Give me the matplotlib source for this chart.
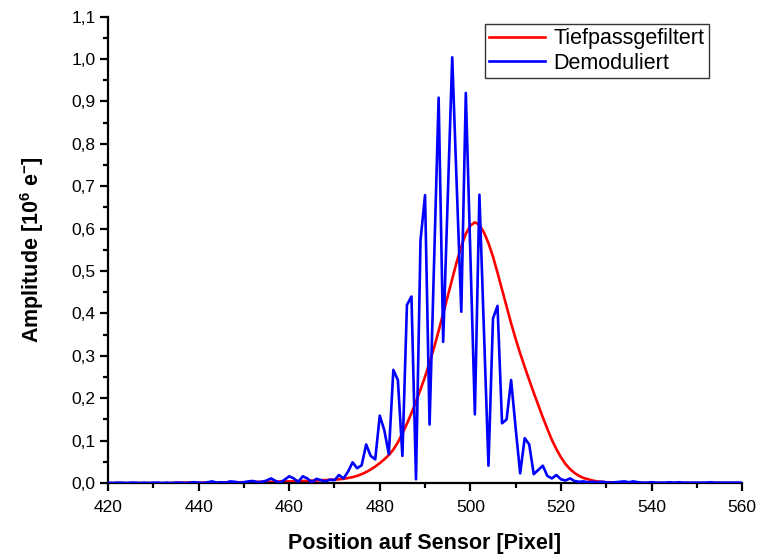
import numpy as np
import matplotlib
matplotlib.use('Agg')
import matplotlib.pyplot as plt
from matplotlib.ticker import MultipleLocator, FuncFormatter

plt.rcParams['font.family'] = ['Liberation Sans', 'DejaVu Sans']
plt.rcParams['mathtext.fontset'] = 'custom'
plt.rcParams['mathtext.rm'] = 'Liberation Sans'
plt.rcParams['mathtext.bf'] = 'Liberation Sans:bold'
plt.rcParams['mathtext.default'] = 'bf'

# Demodulated signal, one value per pixel (420..560)
pixel = np.arange(420, 561)
demoduliert = [
    0.001, 0.000, 0.001, 0.001, 0.000, 0.001, 0.001, 0.000, 0.001, 0.000,   # 420-429
    0.001, 0.001, 0.000, 0.001, 0.000, 0.001, 0.001, 0.000, 0.001, 0.002,   # 430-439
    0.001, 0.000, 0.002, 0.004, 0.001, 0.002, 0.001, 0.004, 0.003, 0.001,   # 440-449
    0.002, 0.004, 0.005, 0.002, 0.003, 0.006, 0.011, 0.005, 0.001, 0.008,   # 450-459
    0.016, 0.011, 0.003, 0.016, 0.011, 0.002, 0.010, 0.007, 0.004, 0.008,   # 460-469
    0.007, 0.019, 0.011, 0.027, 0.049, 0.035, 0.042, 0.091, 0.064, 0.056,   # 470-479
    0.159, 0.125, 0.068, 0.267, 0.243, 0.064, 0.420, 0.440, 0.009, 0.573,   # 480-489
    0.679, 0.138, 0.520, 0.909, 0.333, 0.670, 1.004, 0.700, 0.404, 0.920,   # 490-499
    0.540, 0.162, 0.680, 0.360, 0.041, 0.388, 0.418, 0.141, 0.150, 0.243,   # 500-509
    0.130, 0.023, 0.106, 0.091, 0.021, 0.031, 0.041, 0.017, 0.011, 0.019,   # 510-519
    0.009, 0.006, 0.011, 0.005, 0.003, 0.004, 0.002, 0.003, 0.002, 0.003,   # 520-529
    0.002, 0.001, 0.002, 0.003, 0.004, 0.002, 0.004, 0.002, 0.001, 0.001,   # 530-539
    0.002, 0.001, 0.001, 0.001, 0.002, 0.001, 0.002, 0.001, 0.001, 0.001,   # 540-549
    0.001, 0.001, 0.001, 0.002, 0.001, 0.001, 0.001, 0.001, 0.001, 0.001,   # 550-559
    0.001,                                                                  # 560
]

# Low-pass filtered signal, same pixel grid
tiefpass = [
    0.000, 0.000, 0.000, 0.000, 0.000, 0.000, 0.000, 0.000, 0.000, 0.000,   # 420-429
    0.000, 0.000, 0.000, 0.000, 0.000, 0.001, 0.001, 0.001, 0.001, 0.001,   # 430-439
    0.001, 0.001, 0.001, 0.001, 0.001, 0.001, 0.002, 0.002, 0.002, 0.002,   # 440-449
    0.002, 0.002, 0.003, 0.003, 0.003, 0.003, 0.003, 0.003, 0.004, 0.004,   # 450-459
    0.004, 0.004, 0.005, 0.005, 0.005, 0.006, 0.006, 0.007, 0.007, 0.008,   # 460-469
    0.008, 0.009, 0.010, 0.012, 0.014, 0.017, 0.021, 0.026, 0.032, 0.039,   # 470-479
    0.047, 0.056, 0.066, 0.079, 0.096, 0.117, 0.140, 0.165, 0.192, 0.221,   # 480-489
    0.251, 0.284, 0.320, 0.359, 0.400, 0.442, 0.483, 0.522, 0.558, 0.588,   # 490-499
    0.607, 0.615, 0.609, 0.591, 0.566, 0.534, 0.496, 0.456, 0.416, 0.377,   # 500-509
    0.340, 0.306, 0.274, 0.243, 0.213, 0.184, 0.155, 0.128, 0.102, 0.080,   # 510-519
    0.061, 0.045, 0.033, 0.024, 0.017, 0.012, 0.009, 0.006, 0.004, 0.003,   # 520-529
    0.002, 0.002, 0.001, 0.001, 0.001, 0.001, 0.000, 0.000, 0.000, 0.000,   # 530-539
    0.000, 0.000, 0.000, 0.000, 0.000, 0.000, 0.000, 0.000, 0.000, 0.000,   # 540-549
    0.000, 0.000, 0.000, 0.000, 0.000, 0.000, 0.000, 0.000, 0.000, 0.000,   # 550-559
    0.000,                                                                  # 560
]

fig = plt.figure(figsize=(7.58, 5.54), dpi=100)
ax = fig.add_axes([0.1425, 0.128, 0.8365, 0.842])

ax.plot(pixel, tiefpass, color='#ff0000', lw=1.9, label='Tiefpassgefiltert', zorder=2)
ax.plot(pixel, demoduliert, color='#0000ff', lw=1.9, label='Demoduliert', zorder=3)

ax.set_xlim(420, 560)
ax.set_ylim(0, 1.1)

ax.xaxis.set_major_locator(MultipleLocator(20))
ax.xaxis.set_minor_locator(MultipleLocator(10))
ax.yaxis.set_major_locator(MultipleLocator(0.1))
ax.yaxis.set_minor_locator(MultipleLocator(0.05))
ax.yaxis.set_major_formatter(FuncFormatter(lambda v, p: f'{v:.1f}'.replace('.', ',')))

for side in ('top', 'right'):
    ax.spines[side].set_visible(False)
for side in ('left', 'bottom'):
    ax.spines[side].set_linewidth(1.6)

ax.tick_params(which='major', direction='out', length=6, width=1.6, labelsize=12.5, pad=3)
ax.tick_params(axis='x', which='major', pad=6)
ax.tick_params(which='minor', direction='out', length=3.5, width=1.6)

ax.set_xlabel('Position auf Sensor [Pixel]', fontsize=15.5, fontweight='bold', labelpad=13)
ax.set_ylabel(r'Amplitude [10$^{6}$ e$^{-}$]', fontsize=15.5, fontweight='bold', labelpad=18)

leg = ax.legend(loc='upper right', bbox_to_anchor=(0.958, 0.998), fontsize=15.5,
                frameon=True, fancybox=False, handlelength=2.6, borderpad=0.2,
                labelspacing=0.15, handletextpad=0.4, borderaxespad=0.3)
leg.get_frame().set_edgecolor('black')
leg.get_frame().set_linewidth(1.0)

fig.savefig('out.png', dpi=100)
